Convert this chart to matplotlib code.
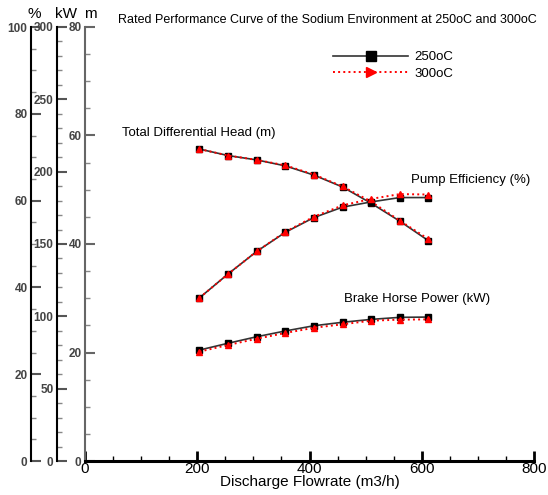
import matplotlib.pyplot as plt
from matplotlib.ticker import MultipleLocator
from matplotlib.lines import Line2D

plt.rcParams['font.family'] = ['Liberation Sans', 'DejaVu Sans']

# Data
flow = [204, 255, 306, 357, 408, 459, 510, 561, 612]
head_250 = [57.5, 56.3, 55.5, 54.4, 52.7, 50.5, 47.5, 44.2, 40.6]
head_300 = [57.5, 56.3, 55.5, 54.5, 52.8, 50.6, 47.8, 44.3, 40.9]
eff_250 = [37.6, 43.1, 48.3, 52.7, 56.1, 58.5, 59.7, 60.7, 60.7]
eff_300 = [37.6, 43.1, 48.3, 52.8, 56.3, 58.9, 60.4, 61.5, 61.4]
bhp_250 = [76.7, 81.4, 85.9, 89.9, 93.5, 95.9, 97.9, 99.3, 99.5]
bhp_300 = [75.6, 80.2, 84.5, 88.5, 92.1, 94.5, 97.0, 97.7, 97.9]

fig = plt.figure(figsize=(5.48, 4.95), dpi=100)
ax = fig.add_axes([85/548, 34/495, 449/548, 434/495])

blk = dict(color='#333333', lw=1.2, marker='s', ms=4, mfc='black', mec='black')
red = dict(color='red', lw=1.4, ls=':', marker='^', ms=4.5, mfc='red', mec='red')

# m axis (head)
ax.plot(flow, head_250, **blk)
ax.plot(flow, head_300, **red)
ax.set_xlim(0, 800)
ax.set_ylim(0, 80)
ax.spines['top'].set_visible(False)
ax.spines['right'].set_visible(False)
ax.spines['left'].set_color('#666666')
ax.spines['left'].set_linewidth(1.5)
ax.spines['bottom'].set_linewidth(2.2)
ax.xaxis.set_major_locator(MultipleLocator(200))
ax.xaxis.set_minor_locator(MultipleLocator(50))
ax.yaxis.set_major_locator(MultipleLocator(20))
ax.yaxis.set_minor_locator(MultipleLocator(5))
ax.tick_params(axis='x', which='major', direction='in', length=7, width=2, labelsize=11, pad=1)
ax.tick_params(axis='x', which='minor', direction='in', length=3.5, width=1)
ax.tick_params(axis='y', which='major', direction='in', length=7, width=1.5, color='#666666',
               labelsize=8.5, pad=2.5, labelcolor='#444444')
ax.tick_params(axis='y', which='minor', direction='in', length=3.5, width=1, color='#888888')
for t in ax.get_yticklabels():
    t.set_fontweight('bold')
ax.set_xlabel('Discharge Flowrate (m3/h)', fontsize=11, labelpad=-1)


def side_axis(offset, top, major, minor):
    a = ax.twinx()
    for s in ['right', 'top', 'bottom']:
        a.spines[s].set_visible(False)
    a.spines['left'].set_visible(True)
    a.spines['left'].set_position(('axes', offset))
    a.spines['left'].set_linewidth(1.5)
    a.yaxis.set_ticks_position('left')
    a.yaxis.set_label_position('left')
    a.set_ylim(0, top)
    a.yaxis.set_major_locator(MultipleLocator(major))
    a.yaxis.set_minor_locator(MultipleLocator(minor))
    a.tick_params(axis='y', which='major', direction='in', length=7, width=1.5, color='#555555',
                  labelsize=8.5, pad=2.5, labelcolor='#444444')
    a.tick_params(axis='y', which='minor', direction='in', length=3.5, width=1, color='#888888')
    for t in a.get_yticklabels():
        t.set_fontweight('bold')
    return a


ax_pct = side_axis((31 - 85) / 449, 100, 20, 5)
ax_kw = side_axis((57 - 85) / 449, 300, 50, 10)

ax_pct.plot(flow, eff_250, **blk)
ax_pct.plot(flow, eff_300, **red)
ax_kw.plot(flow, bhp_250, **blk)
ax_kw.plot(flow, bhp_300, **red)

# unit labels
fig.text(27/548, 1 - 14/495, '%', fontsize=11, va='center', ha='left')
fig.text(55/548, 1 - 14/495, 'kW', fontsize=11, va='center', ha='left')
fig.text(84/548, 1 - 14/495, 'm', fontsize=11, va='center', ha='left')

fig.text(118/548, 1 - 20/495, 'Rated Performance Curve of the Sodium Environment at 250oC and 300oC',
         fontsize=9.0, va='center', ha='left')

ax.text(66, 60.5, 'Total Differential Head (m)', fontsize=9.5, va='center', ha='left')
ax.text(581, 51.8, 'Pump Efficiency (%)', fontsize=9.5, va='center', ha='left')
ax.text(462, 29.9, 'Brake Horse Power (kW)', fontsize=9.5, va='center', ha='left')

handles = [Line2D([], [], color='#333333', lw=1.2, marker='s', ms=6.5, mfc='black', mec='black'),
           Line2D([], [], color='red', lw=1.4, ls=':', marker='>', ms=7.5, mfc='red', mec='red')]
fig.legend(handles, ['250oC', '300oC'], loc='upper left', bbox_to_anchor=(333/548, 1 - 51/495),
           frameon=False, fontsize=9.5, handlelength=5.7, handletextpad=0.5, labelspacing=0.35,
           borderpad=0, borderaxespad=0)

fig.savefig('out.png', dpi=100)
